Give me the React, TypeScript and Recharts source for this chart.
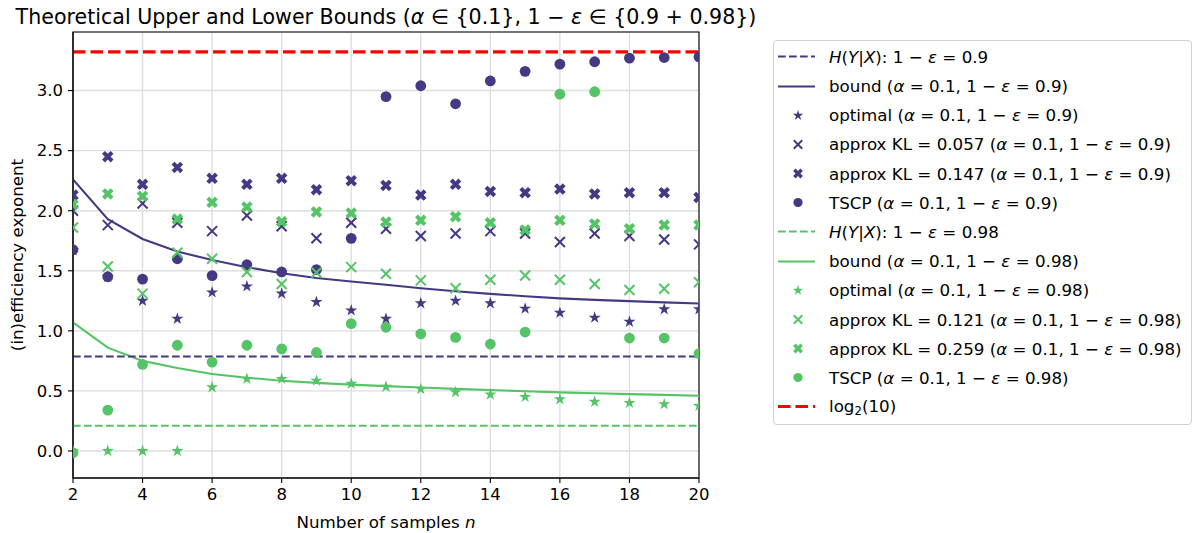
import React from "react";
import {
  ComposedChart,
  Line,
  Scatter,
  XAxis,
  YAxis,
  CartesianGrid,
  ReferenceLine,
  ReferenceArea,
} from "recharts";

const samples = [2, 3, 4, 5, 6, 7, 8, 9, 10, 11, 12, 13, 14, 15, 16, 17, 18, 19, 20];
const xTicks = [2, 4, 6, 8, 10, 12, 14, 16, 18, 20];
const yTicks = [0, 0.5, 1, 1.5, 2, 2.5, 3];

const alpha = "0.1";
const confA = "0.9";
const confB = "0.98";
const klA = ["0.057", "0.147"];
const klB = ["0.121", "0.259"];

// 1 - eps = 0.9
const entropyA = 0.786;
const boundA = [2.26, 1.93, 1.765, 1.66, 1.59, 1.53, 1.48, 1.44, 1.41, 1.383, 1.355, 1.33, 1.308, 1.288, 1.27, 1.258, 1.247, 1.237, 1.228];
const optimalA = [1.67, 1.45, 1.25, 1.1, 1.32, 1.37, 1.31, 1.24, 1.17, 1.1, 1.23, 1.25, 1.23, 1.185, 1.15, 1.11, 1.075, 1.18, 1.18];
const approxA1 = [2.0, 1.88, 2.06, 1.9, 1.83, 1.96, 1.87, 1.77, 1.9, 1.85, 1.79, 1.81, 1.83, 1.81, 1.74, 1.81, 1.79, 1.76, 1.72];
const approxA2 = [2.13, 2.45, 2.22, 2.36, 2.27, 2.22, 2.27, 2.175, 2.25, 2.21, 2.13, 2.22, 2.16, 2.15, 2.18, 2.14, 2.15, 2.15, 2.11];
const tscpA = [1.675, 1.45, 1.43, 1.6, 1.46, 1.55, 1.49, 1.51, 1.77, 2.95, 3.04, 2.89, 3.08, 3.16, 3.22, 3.24, 3.27, 3.275, 3.28];

// 1 - eps = 0.98
const entropyB = 0.21;
const boundB = [1.07, 0.86, 0.75, 0.69, 0.64, 0.61, 0.585, 0.567, 0.552, 0.54, 0.528, 0.517, 0.507, 0.497, 0.488, 0.48, 0.473, 0.467, 0.46];
const optimalB = [0.0, 0.0, 0.0, 0.0, 0.53, 0.6, 0.6, 0.585, 0.56, 0.535, 0.515, 0.49, 0.47, 0.45, 0.43, 0.41, 0.4, 0.39, 0.375];
const approxB1 = [1.86, 1.535, 1.31, 1.65, 1.6, 1.49, 1.39, 1.485, 1.53, 1.475, 1.42, 1.355, 1.425, 1.46, 1.425, 1.39, 1.34, 1.35, 1.405];
const approxB2 = [2.05, 2.14, 2.12, 1.93, 2.07, 2.03, 1.91, 1.99, 1.98, 1.905, 1.92, 1.95, 1.9, 1.84, 1.92, 1.89, 1.85, 1.88, 1.88];
const tscpB = [-0.015, 0.34, 0.72, 0.88, 0.74, 0.88, 0.85, 0.82, 1.06, 1.03, 0.975, 0.945, 0.89, 0.99, 2.97, 2.99, 0.94, 0.94, 0.81];

const log2Ten = Math.log2(10);

const purple = "#443983";
const green = "#55c467";
const red = "#ff0000";
const font = '"DejaVu Sans", sans-serif';
const yDomain: [number, number] = [-0.225, 3.4875];

const toPoints = (vals: number[]) => samples.map((n, i) => ({ n, v: vals[i] }));

type Kind = "star" | "x" | "X" | "circle" | "dash" | "solid" | "reddash";

function Marker({ kind, cx, cy, color, k = 1 }: { kind: Kind; cx: number; cy: number; color: string; k?: number }) {
  if (kind === "circle") return <circle cx={cx} cy={cy} r={5.4 * k} fill={color} />;
  if (kind === "star") {
    const R = 6.4 * k;
    const r = R * 0.382;
    const pts = Array.from({ length: 10 }, (_, i) => {
      const a = -Math.PI / 2 + (i * Math.PI) / 5;
      const rr = i % 2 === 0 ? R : r;
      return `${cx + rr * Math.cos(a)},${cy + rr * Math.sin(a)}`;
    }).join(" ");
    return <polygon points={pts} fill={color} />;
  }
  if (kind === "x") {
    const h = 5 * k;
    return (
      <g stroke={color} strokeWidth={2}>
        <line x1={cx - h} y1={cy - h} x2={cx + h} y2={cy + h} />
        <line x1={cx - h} y1={cy + h} x2={cx + h} y2={cy - h} />
      </g>
    );
  }
  // filled X
  const plus = [[-1, -3], [1, -3], [1, -1], [3, -1], [3, 1], [1, 1], [1, 3], [-1, 3], [-1, 1], [-3, 1], [-3, -1], [-1, -1]];
  const s = (12.2 * k) / 6;
  const pts = plus
    .map(([px, py]) => `${cx + ((px - py) / Math.SQRT2) * s},${cy + ((px + py) / Math.SQRT2) * s}`)
    .join(" ");
  return <polygon points={pts} fill={color} />;
}

const shapeOf = (kind: Kind, color: string) => (p: any) => <Marker kind={kind} cx={p.cx} cy={p.cy} color={color} />;

const cond = (c: string) => (
  <>
    (<i>α</i> = {alpha}, 1 − <i>ε</i> = {c})
  </>
);
const entropyLabel = (c: string) => (
  <>
    <i>H</i>(<i>Y</i>|<i>X</i>): 1 − <i>ε</i> = {c}
  </>
);

const legendItems: { kind: Kind; color: string; label: React.ReactNode }[] = [
  { kind: "dash", color: purple, label: entropyLabel(confA) },
  { kind: "solid", color: purple, label: <>bound {cond(confA)}</> },
  { kind: "star", color: purple, label: <>optimal {cond(confA)}</> },
  { kind: "x", color: purple, label: <>approx KL = {klA[0]} {cond(confA)}</> },
  { kind: "X", color: purple, label: <>approx KL = {klA[1]} {cond(confA)}</> },
  { kind: "circle", color: purple, label: <>TSCP {cond(confA)}</> },
  { kind: "dash", color: green, label: entropyLabel(confB) },
  { kind: "solid", color: green, label: <>bound {cond(confB)}</> },
  { kind: "star", color: green, label: <>optimal {cond(confB)}</> },
  { kind: "x", color: green, label: <>approx KL = {klB[0]} {cond(confB)}</> },
  { kind: "X", color: green, label: <>approx KL = {klB[1]} {cond(confB)}</> },
  { kind: "circle", color: green, label: <>TSCP {cond(confB)}</> },
  {
    kind: "reddash",
    color: red,
    label: (
      <>
        log<sub style={{ fontSize: "0.7em", verticalAlign: "-0.25em" }}>2</sub>(10)
      </>
    ),
  },
];

function LegendBox() {
  return (
    <div
      style={{
        position: "absolute",
        left: 773,
        top: 40,
        width: 419,
        height: 385,
        boxSizing: "border-box",
        border: "1px solid #d0d0d0",
        borderRadius: 4,
        background: "#fff",
      }}
    >
      {legendItems.map((it, i) => (
        <div
          key={i}
          style={{
            position: "absolute",
            left: 0,
            top: 1.4 + i * 29.17,
            height: 29.17,
            width: 417,
            display: "flex",
            alignItems: "center",
          }}
        >
          <svg width={50} height={29} style={{ position: "absolute", left: 0, top: 0 }}>
            {it.kind === "dash" && (
              <line x1={4} x2={41} y1={14.5} y2={14.5} stroke={it.color} strokeWidth={2.1} strokeDasharray="7.7 3.3" />
            )}
            {it.kind === "reddash" && (
              <line x1={4} x2={41} y1={14.5} y2={14.5} stroke={it.color} strokeWidth={3.2} strokeDasharray="12.5 5" />
            )}
            {it.kind === "solid" && <line x1={4} x2={41} y1={14.5} y2={14.5} stroke={it.color} strokeWidth={2.1} />}
            {["star", "x", "X", "circle"].includes(it.kind) && (
              <Marker kind={it.kind} cx={24} cy={14.5} color={it.color} k={0.85} />
            )}
          </svg>
          <span style={{ position: "absolute", left: 55, whiteSpace: "nowrap", fontSize: 16.7 }}>{it.label}</span>
        </div>
      ))}
    </div>
  );
}

export default function App() {
  const scatterSeries: { vals: number[]; kind: Kind; color: string }[] = [
    { vals: optimalA, kind: "star", color: purple },
    { vals: approxA1, kind: "x", color: purple },
    { vals: approxA2, kind: "X", color: purple },
    { vals: tscpA, kind: "circle", color: purple },
    { vals: optimalB, kind: "star", color: green },
    { vals: approxB1, kind: "x", color: green },
    { vals: approxB2, kind: "X", color: green },
    { vals: tscpB, kind: "circle", color: green },
  ];

  return (
    <div
      style={{
        position: "absolute",
        left: 0,
        top: 0,
        width: 1202,
        height: 533,
        background: "#fff",
        fontFamily: font,
        color: "#000",
      }}
    >
      <div
        style={{
          position: "absolute",
          left: 386 - 600,
          width: 1200,
          top: 5,
          lineHeight: "24px",
          fontSize: 20.6,
          textAlign: "center",
          whiteSpace: "nowrap",
        }}
      >
        Theoretical Upper and Lower Bounds (<i>α</i> ∈ {"{"}
        {alpha}
        {"}"}, 1 − <i>ε</i> ∈ {"{"}
        {confA} + {confB}
        {"}"})
      </div>

      <ComposedChart
        width={1202}
        height={533}
        margin={{ top: 32, right: 503, bottom: 0, left: 13 }}
        style={{ fontFamily: font }}
      >
        <CartesianGrid stroke="#dedede" strokeWidth={1.4} />
        <XAxis
          dataKey="n"
          type="number"
          domain={[2, 20]}
          ticks={xTicks}
          allowDataOverflow
          height={55}
          tickSize={5}
          tickMargin={5}
          tick={{ fill: "#000", fontSize: 16.5 }}
          tickLine={{ stroke: "#000", strokeWidth: 1.1 }}
          axisLine={{ stroke: "#000", strokeWidth: 1.1 }}
        />
        <YAxis
          dataKey="v"
          type="number"
          domain={yDomain}
          ticks={yTicks}
          allowDataOverflow
          width={60}
          tickSize={5}
          tickMargin={5}
          tickFormatter={(v: number) => v.toFixed(1)}
          tick={{ fill: "#000", fontSize: 16.5 }}
          tickLine={{ stroke: "#000", strokeWidth: 1.1 }}
          axisLine={{ stroke: "#000", strokeWidth: 1.1 }}
        />
        {scatterSeries.map((s, i) => (
          <Scatter
            key={i}
            data={toPoints(s.vals)}
            dataKey="v"
            shape={shapeOf(s.kind, s.color)}
            isAnimationActive={false}
          />
        ))}
        <Line
          data={toPoints(boundA)}
          dataKey="v"
          stroke={purple}
          strokeWidth={2.1}
          dot={false}
          activeDot={false}
          isAnimationActive={false}
          type="linear"
        />
        <Line
          data={toPoints(boundB)}
          dataKey="v"
          stroke={green}
          strokeWidth={2.1}
          dot={false}
          activeDot={false}
          isAnimationActive={false}
          type="linear"
        />
        <ReferenceLine y={entropyA} stroke={purple} strokeWidth={2.1} strokeDasharray="7.7 3.3" />
        <ReferenceLine y={entropyB} stroke={green} strokeWidth={2.1} strokeDasharray="7.7 3.3" />
        <ReferenceLine y={log2Ten} stroke={red} strokeWidth={3.2} strokeDasharray="12.5 5" />
        <ReferenceArea
          x1={2}
          x2={20}
          y1={yDomain[0]}
          y2={yDomain[1]}
          fill="none"
          stroke="#000"
          strokeWidth={1.1}
          ifOverflow="visible"
        />
      </ComposedChart>

      <div
        style={{
          position: "absolute",
          left: 17,
          top: 255,
          transform: "translate(-50%, -50%) rotate(-90deg)",
          whiteSpace: "nowrap",
          fontSize: 16.7,
        }}
      >
        (in)efficiency exponent
      </div>
      <div
        style={{
          position: "absolute",
          left: 386 - 200,
          width: 400,
          top: 512,
          lineHeight: "20px",
          textAlign: "center",
          fontSize: 16.7,
        }}
      >
        Number of samples <i>n</i>
      </div>

      <LegendBox />
    </div>
  );
}
